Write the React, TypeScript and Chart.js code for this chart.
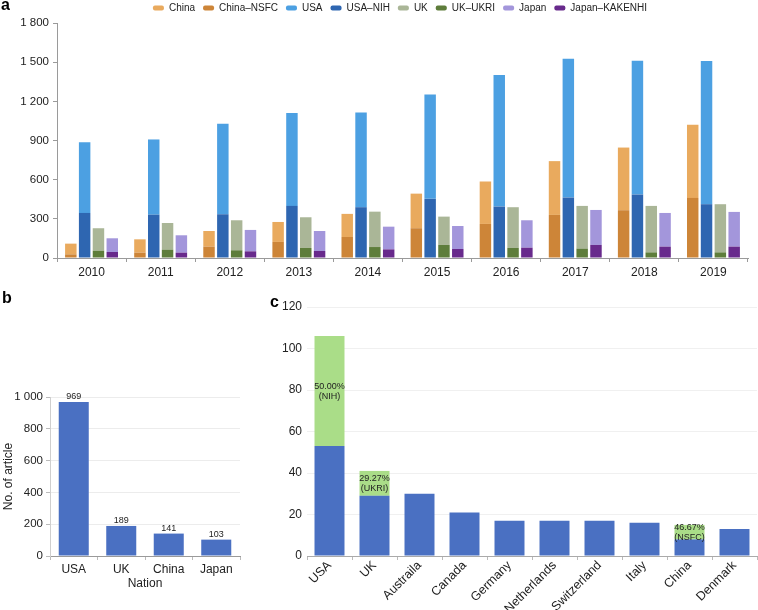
import React, { useEffect, useRef } from "react";
import { Chart, registerables } from "chart.js";
Chart.register(...registerables);

const FONT = "'Liberation Sans', Arial, Helvetica, sans-serif";

// ---------- Panel a data ----------
const years = ["2010", "2011", "2012", "2013", "2014", "2015", "2016", "2017", "2018", "2019"];
const chinaTotal = [110, 143, 207, 276, 338, 493, 586, 742, 846, 1020];
const chinaNSFC = [28, 41, 87, 123, 161, 228, 261, 330, 366, 460];
const usaTotal = [887, 908, 1028, 1110, 1115, 1253, 1401, 1527, 1511, 1509];
const usaNIH = [345, 332, 335, 399, 389, 453, 394, 463, 486, 412];
const ukTotal = [228, 268, 289, 312, 355, 317, 389, 399, 399, 412];
const ukUKRI = [56, 64, 59, 77, 84, 100, 77, 72, 43, 43];
const japanTotal = [151, 174, 215, 207, 240, 245, 289, 368, 345, 353];
const japanKAKENHI = [46, 41, 51, 54, 66, 69, 79, 100, 87, 87];
const legendOrder = ["China", "China–NSFC", "USA", "USA–NIH", "UK", "UK–UKRI", "Japan", "Japan–KAKENHI"];
const yTicksA = { max: 1800, step: 300 };

// ---------- Panel b data ----------
const nations = ["USA", "UK", "China", "Japan"];
const articles = [969, 189, 141, 103];
const yTicksB = { max: 1000, step: 200 };

// ---------- Panel c data ----------
const countries = ["USA", "UK", "Austraila", "Canada", "Germany", "Netherlands", "Switzerland", "Italy", "China", "Denmark"];
const countryTotals = [106, 41, 30, 21, 17, 17, 17, 16, 15, 13];
const countryFunded = [53, 12, 0, 0, 0, 0, 0, 0, 7, 0];
const fundedPct = ["50.00%", "29.27%", "", "", "", "", "", "", "46.67%", ""];
const fundedAgency = ["(NIH)", "(UKRI)", "", "", "", "", "", "", "(NSFC)", ""];
const yTicksC = { max: 120, step: 20 };

const fmt = (v: number | string) => String(v).replace(/\B(?=(\d{3})+(?!\d))/g, " ");
const diff = (t: number[], s: number[]) => t.map((v, i) => v - s[i]);

const C = {
  china: "#E9AA5E",
  nsfc: "#CD8538",
  usa: "#4CA0E2",
  nih: "#2E66B1",
  uk: "#AAB697",
  ukri: "#5E7D3B",
  japan: "#A396DB",
  kakenhi: "#682A8C",
  blue: "#4A70C2",
  green: "#AADD88",
};

function ChartA() {
  const ref = useRef<HTMLCanvasElement>(null);
  useEffect(() => {
    const legendShift = {
      id: "legendShift",
      afterLayout(chart: any) {
        if (chart.legend) chart.legend.left += 52;
      },
    };
    const chart = new Chart(ref.current!, {
      type: "bar",
      data: {
        labels: years,
        datasets: [
          { label: "China–NSFC", data: chinaNSFC, backgroundColor: C.nsfc, stack: "China" },
          { label: "China", data: diff(chinaTotal, chinaNSFC), backgroundColor: C.china, stack: "China" },
          { label: "USA–NIH", data: usaNIH, backgroundColor: C.nih, stack: "USA" },
          { label: "USA", data: diff(usaTotal, usaNIH), backgroundColor: C.usa, stack: "USA" },
          { label: "UK–UKRI", data: ukUKRI, backgroundColor: C.ukri, stack: "UK" },
          { label: "UK", data: diff(ukTotal, ukUKRI), backgroundColor: C.uk, stack: "UK" },
          { label: "Japan–KAKENHI", data: japanKAKENHI, backgroundColor: C.kakenhi, stack: "Japan" },
          { label: "Japan", data: diff(japanTotal, japanKAKENHI), backgroundColor: C.japan, stack: "Japan" },
        ],
      },
      options: {
        animation: false,
        responsive: false,
        maintainAspectRatio: false,
        layout: { padding: { left: 0, right: 10, top: 0, bottom: 0 } },
        datasets: { bar: { categoryPercentage: 0.8, barPercentage: 0.83 } },
        plugins: {
          tooltip: { enabled: false },
          legend: {
            position: "top",
            labels: {
              font: { family: FONT, size: 10 },
              color: "#222",
              boxWidth: 11,
              boxHeight: 5,
              padding: 8,
              useBorderRadius: true,
              borderRadius: 2,
              sort: (a: any, b: any) => legendOrder.indexOf(a.text) - legendOrder.indexOf(b.text),
            },
          },
        },
        scales: {
          x: {
            stacked: true,
            afterFit: (s: any) => { s.height = 22; },
            border: { color: "#9a9a9a" },
            grid: { drawOnChartArea: false, tickLength: 4, color: "#9a9a9a" },
            ticks: { font: { family: FONT, size: 12 }, color: "#222", padding: 3 },
          },
          y: {
            stacked: true,
            min: 0,
            max: yTicksA.max,
            afterFit: (s: any) => { s.width = 57; },
            border: { color: "#9a9a9a" },
            grid: { drawOnChartArea: false, tickLength: 4, color: "#9a9a9a" },
            ticks: { stepSize: yTicksA.step, font: { family: FONT, size: 11.5 }, color: "#222", padding: 4, callback: (v: any) => fmt(v) },
          },
        },
      },
      plugins: [legendShift],
    });
    return () => chart.destroy();
  }, []);
  return <canvas ref={ref} width={758} height={285} style={{ position: "absolute", left: 0, top: -5, width: 758, height: 285 }} />;
}

function ChartB() {
  const ref = useRef<HTMLCanvasElement>(null);
  useEffect(() => {
    const labelPlugin = {
      id: "barValueLabels",
      afterDatasetsDraw(chart: any) {
        const ctx = chart.ctx;
        const meta = chart.getDatasetMeta(0);
        ctx.save();
        ctx.font = `9px ${FONT}`;
        ctx.fillStyle = "#222";
        ctx.textAlign = "center";
        ctx.textBaseline = "bottom";
        meta.data.forEach((el: any, i: number) => ctx.fillText(String(articles[i]), el.x, el.y - 1));
        ctx.restore();
      },
    };
    const chart = new Chart(ref.current!, {
      type: "bar",
      data: {
        labels: nations,
        datasets: [{ label: "No. of article", data: articles, backgroundColor: C.blue }],
      },
      options: {
        animation: false,
        responsive: false,
        maintainAspectRatio: false,
        layout: { padding: { left: 0, right: 10, top: 107, bottom: 0 } },
        datasets: { bar: { categoryPercentage: 0.8, barPercentage: 0.79 } },
        plugins: { legend: { display: false }, tooltip: { enabled: false } },
        scales: {
          x: {
            afterFit: (s: any) => { s.height = 54; },
            border: { color: "#9a9a9a" },
            grid: { drawOnChartArea: false, tickLength: 4, color: "#bbb" },
            ticks: { font: { family: FONT, size: 12 }, color: "#222", padding: 2 },
            title: { display: true, text: "Nation", font: { family: FONT, size: 12 }, color: "#222", padding: { top: 0, bottom: 19 } },
          },
          y: {
            min: 0,
            max: yTicksB.max,
            afterFit: (s: any) => { s.width = 50; },
            border: { color: "#cfcfcf" },
            grid: { color: "#ececec", tickColor: "#bbb", tickLength: 4 },
            ticks: { stepSize: yTicksB.step, font: { family: FONT, size: 11.5 }, color: "#222", padding: 3, callback: (v: any) => fmt(v) },
            title: { display: true, text: "No. of article", font: { family: FONT, size: 12 }, color: "#222", padding: { top: 1, bottom: 0 } },
          },
        },
      },
      plugins: [labelPlugin],
    });
    return () => chart.destroy();
  }, []);
  return <canvas ref={ref} width={250} height={320} style={{ position: "absolute", left: 0, top: 290, width: 250, height: 320 }} />;
}

function ChartC() {
  const ref = useRef<HTMLCanvasElement>(null);
  useEffect(() => {
    const labelPlugin = {
      id: "fundLabels",
      afterDatasetsDraw(chart: any) {
        const ctx = chart.ctx;
        const meta = chart.getDatasetMeta(1);
        ctx.save();
        ctx.font = `9px ${FONT}`;
        ctx.fillStyle = "#222";
        ctx.textAlign = "center";
        ctx.textBaseline = "middle";
        meta.data.forEach((el: any, i: number) => {
          if (!fundedPct[i]) return;
          const cy = (el.y + el.base) / 2;
          ctx.fillText(fundedPct[i], el.x, cy - 5);
          ctx.fillText(fundedAgency[i], el.x, cy + 5);
        });
        ctx.restore();
      },
    };
    const chart = new Chart(ref.current!, {
      type: "bar",
      data: {
        labels: countries,
        datasets: [
          { label: "Other", data: diff(countryTotals, countryFunded), backgroundColor: C.blue, stack: "s" },
          { label: "Funded", data: countryFunded, backgroundColor: C.green, stack: "s" },
        ],
      },
      options: {
        animation: false,
        responsive: false,
        maintainAspectRatio: false,
        layout: { padding: { left: 0, right: 1, top: 17, bottom: 0 } },
        datasets: { bar: { categoryPercentage: 0.8, barPercentage: 0.833 } },
        plugins: { legend: { display: false }, tooltip: { enabled: false } },
        scales: {
          x: {
            stacked: true,
            afterFit: (s: any) => { s.height = 54; },
            border: { color: "#aaa" },
            grid: { drawOnChartArea: false, tickLength: 4, color: "#bbb" },
            ticks: { font: { family: FONT, size: 12.5 }, color: "#222", padding: -2, autoSkip: false, minRotation: 45, maxRotation: 45 },
          },
          y: {
            stacked: true,
            min: 0,
            max: yTicksC.max,
            afterFit: (s: any) => { s.width = 57; },
            border: { display: false },
            grid: { color: "#f0f0f0", drawTicks: false },
            ticks: { stepSize: yTicksC.step, font: { family: FONT, size: 12 }, color: "#222", padding: 5 },
          },
        },
      },
      plugins: [labelPlugin],
    });
    return () => chart.destroy();
  }, []);
  return <canvas ref={ref} width={508} height={320} style={{ position: "absolute", left: 250, top: 290, width: 508, height: 320 }} />;
}

const letterStyle: React.CSSProperties = {
  position: "absolute",
  fontFamily: FONT,
  fontWeight: "bold",
  fontSize: 16,
  lineHeight: "16px",
  color: "#000",
};

export default function App() {
  useEffect(() => {
    document.body.style.margin = "0";
  }, []);
  return (
    <div style={{ position: "relative", width: 758, height: 610, overflow: "hidden", background: "#fff" }}>
      <ChartA />
      <ChartB />
      <ChartC />
      <div style={{ ...letterStyle, left: 1, top: -3 }}>a</div>
      <div style={{ ...letterStyle, left: 2, top: 290 }}>b</div>
      <div style={{ ...letterStyle, left: 270, top: 294 }}>c</div>
    </div>
  );
}
